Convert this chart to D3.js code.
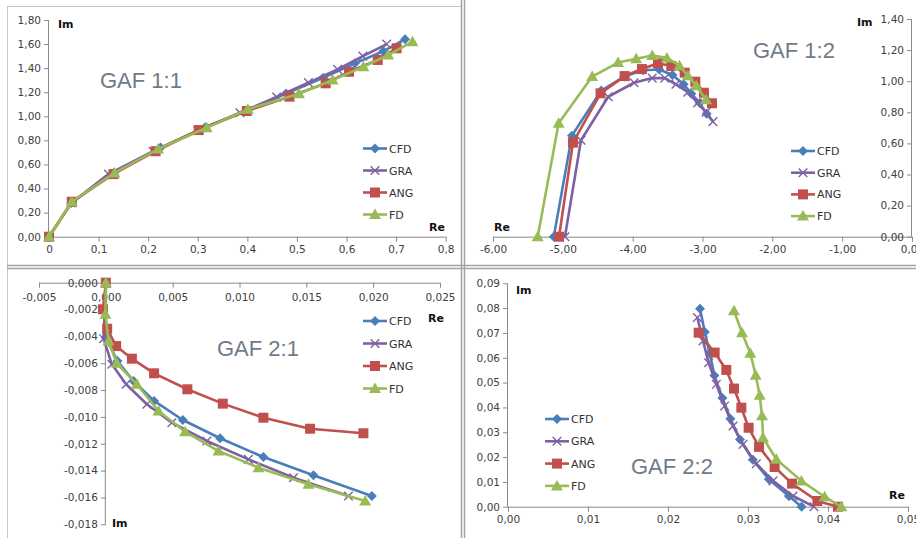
<!DOCTYPE html>
<html>
<head>
<meta charset="utf-8">
<script src="https://cdn.jsdelivr.net/npm/d3@7/dist/d3.min.js"></script>
<style>
  html, body { margin: 0; padding: 0; background: #ffffff; }
  svg { display: block; }
  .tick-label { font-family: "DejaVu Sans", Verdana, sans-serif; fill: #404040; }
  .axis-name { font-family: "DejaVu Sans", Verdana, sans-serif; font-weight: bold; fill: #111; font-size: 11px; }
  .panel-title { font-family: "Liberation Sans", Arial, sans-serif; fill: #6f7b89; font-size: 22px; }
  .legend-text { font-family: "DejaVu Sans", Verdana, sans-serif; fill: #333; font-size: 11px; }
</style>
</head>
<body>
<svg id="chart" width="916" height="538"></svg>
<script>
// Series shared by all four panels
const seriesNames = ["CFD", "GRA", "ANG", "FD"];
const seriesColors = ["#4a7ebb", "#7e61a3", "#c0504d", "#98bb55"];
const seriesMarkers = ["diamond", "cross", "square", "triangle"];

// GAF 1:1  — [Re, Im]
const gaf11CFD = [[0,0],[0.045,0.28],[0.13,0.53],[0.225,0.74],[0.315,0.91],[0.40,1.05],[0.478,1.19],[0.553,1.32],[0.617,1.44],[0.674,1.54],[0.718,1.64]];
const gaf11GRA = [[0,0],[0.045,0.28],[0.12,0.52],[0.21,0.71],[0.30,0.88],[0.385,1.03],[0.459,1.16],[0.523,1.28],[0.582,1.39],[0.633,1.50],[0.681,1.60]];
const gaf11ANG = [[0,0],[0.046,0.29],[0.13,0.52],[0.215,0.71],[0.302,0.886],[0.399,1.044],[0.485,1.163],[0.558,1.274],[0.605,1.37],[0.663,1.468],[0.701,1.565]];
const gaf11FD  = [[0,0],[0.046,0.29],[0.132,0.53],[0.22,0.728],[0.318,0.905],[0.401,1.058],[0.504,1.188],[0.572,1.301],[0.634,1.412],[0.684,1.509],[0.733,1.62]];
const gaf11XTicks = [0, 0.1, 0.2, 0.3, 0.4, 0.5, 0.6, 0.7, 0.8];
const gaf11XLabels = ["0", "0,1", "0,2", "0,3", "0,4", "0,5", "0,6", "0,7", "0,8"];
const gaf11YTicks = [0, 0.2, 0.4, 0.6, 0.8, 1.0, 1.2, 1.4, 1.6, 1.8];
const gaf11YLabels = ["0,00", "0,20", "0,40", "0,60", "0,80", "1,00", "1,20", "1,40", "1,60", "1,80"];

// GAF 1:2
const gaf12CFD = [[-5.13,0],[-4.87,0.65],[-4.45,0.94],[-4.12,1.03],[-3.85,1.07],[-3.62,1.075],[-3.43,1.04],[-3.27,0.98],[-3.16,0.92],[-3.04,0.86],[-2.94,0.79]];
const gaf12GRA = [[-4.97,0],[-4.74,0.62],[-4.35,0.90],[-3.98,0.99],[-3.72,1.02],[-3.54,1.02],[-3.38,0.98],[-3.21,0.93],[-3.07,0.86],[-2.95,0.80],[-2.85,0.74]];
const gaf12ANG = [[-5.055,0],[-4.855,0.605],[-4.46,0.922],[-4.115,1.033],[-3.867,1.078],[-3.637,1.115],[-3.447,1.098],[-3.255,1.055],[-3.103,0.997],[-2.979,0.926],[-2.864,0.858]];
const gaf12FD  = [[-5.36,0],[-5.06,0.73],[-4.58,1.03],[-4.21,1.12],[-3.95,1.145],[-3.72,1.165],[-3.51,1.15],[-3.33,1.10],[-3.21,1.035],[-3.09,0.97],[-2.95,0.88]];
const gaf12XTicks = [-6, -5, -4, -3, -2, -1, 0];
const gaf12XLabels = ["-6,00", "-5,00", "-4,00", "-3,00", "-2,00", "-1,00", "0,00"];
const gaf12YTicks = [0, 0.2, 0.4, 0.6, 0.8, 1.0, 1.2, 1.4];
const gaf12YLabels = ["0,00", "0,20", "0,40", "0,60", "0,80", "1,00", "1,20", "1,40"];

// GAF 2:1
const gaf21CFD = [[0,0],[0.0000,-0.0041],[0.00087,-0.00583],[0.00207,-0.00732],[0.00361,-0.00881],[0.00576,-0.01023],[0.00855,-0.01159],[0.01179,-0.01299],[0.01553,-0.01435],[0.0199,-0.01589]];
const gaf21GRA = [[0,0],[-0.00017,-0.00417],[0.00045,-0.00608],[0.00152,-0.00757],[0.00307,-0.00906],[0.00494,-0.01043],[0.00756,-0.01179],[0.01067,-0.01316],[0.01404,-0.01453],[0.01815,-0.01589]];
const gaf21ANG = [[0,0],[-0.00022,-0.00198],[0.0001,-0.00343],[0.00077,-0.00472],[0.00195,-0.00566],[0.00361,-0.00675],[0.0061,-0.00794],[0.00875,-0.00901],[0.01179,-0.01006],[0.01528,-0.01088],[0.01927,-0.01122]];
const gaf21FD  = [[0,0],[-0.00003,-0.00235],[0.0002,-0.00434],[0.00082,-0.006],[0.00232,-0.00757],[0.00394,-0.00956],[0.00593,-0.0111],[0.00843,-0.01254],[0.01142,-0.01378],[0.01516,-0.01502],[0.0194,-0.01626]];
const gaf21XTicks = [-0.005, 0, 0.005, 0.010, 0.015, 0.020, 0.025];
const gaf21XLabels = ["-0,005", "0,000", "0,005", "0,010", "0,015", "0,020", "0,025"];
const gaf21YTicks = [0, -0.002, -0.004, -0.006, -0.008, -0.010, -0.012, -0.014, -0.016, -0.018];
const gaf21YLabels = ["0,000", "-0,002", "-0,004", "-0,006", "-0,008", "-0,010", "-0,012", "-0,014", "-0,016", "-0,018"];

// GAF 2:2
const gaf22CFD = [[0.0240,0.0797],[0.0246,0.0704],[0.0252,0.0619],[0.0258,0.0529],[0.0268,0.0438],[0.0278,0.0354],[0.0290,0.0271],[0.0306,0.0189],[0.0326,0.0111],[0.0351,0.0043],[0.0367,0]];
const gaf22GRA = [[0.02367,0.0762],[0.02438,0.0668],[0.02508,0.058],[0.02604,0.0493],[0.02708,0.0406],[0.02813,0.0325],[0.02938,0.0251],[0.03104,0.0173],[0.03313,0.0104],[0.03563,0.0043],[0.03825,0]];
const gaf22ANG = [[0.02383,0.0701],[0.02583,0.0621],[0.02729,0.0551],[0.02825,0.0476],[0.02917,0.0399],[0.03008,0.0318],[0.03138,0.0241],[0.03333,0.016],[0.0355,0.0093],[0.03867,0.0023],[0.04125,0]];
const gaf22FD  = [[0.02825,0.0789],[0.02925,0.0701],[0.03029,0.0618],[0.03096,0.053],[0.03146,0.0449],[0.03175,0.0366],[0.03188,0.0278],[0.03354,0.0191],[0.03667,0.0104],[0.03958,0.004],[0.04167,0]];
const gaf22XTicks = [0, 0.01, 0.02, 0.03, 0.04, 0.05];
const gaf22XLabels = ["0,00", "0,01", "0,02", "0,03", "0,04", "0,05"];
const gaf22YTicks = [0, 0.01, 0.02, 0.03, 0.04, 0.05, 0.06, 0.07, 0.08, 0.09];
const gaf22YLabels = ["0,00", "0,01", "0,02", "0,03", "0,04", "0,05", "0,06", "0,07", "0,08", "0,09"];

const svg = d3.select("#chart");

// Panel frames and the double dividers between them
const frame = svg.append("g");
frame.append("line").attr("x1", 7.5).attr("x2", 7.5).attr("y1", 6).attr("y2", 538).attr("stroke", "#c6c6c6");
frame.append("line").attr("x1", 7).attr("x2", 461).attr("y1", 6.5).attr("y2", 6.5).attr("stroke", "#c6c6c6");
[461.5, 464.5].forEach(x => frame.append("line").attr("x1", x).attr("x2", x).attr("y1", 0).attr("y2", 538).attr("stroke", "#a2a2a2").attr("stroke-width", 1.5));
[265.5, 268.5].forEach(y => frame.append("line").attr("x1", 7).attr("x2", 916).attr("y1", y).attr("y2", y).attr("stroke", "#a2a2a2").attr("stroke-width", 1.5));

function markerPath(kind) {
  switch (kind) {
    case "diamond": return "M0,-5L5,0L0,5L-5,0Z";
    case "square": return "M-5,-5H5V5H-5Z";
    case "triangle": return "M0,-6L6,4.5L-6,4.5Z";
    case "cross": return "M-4.3,-4.3L4.3,4.3M-4.3,4.3L4.3,-4.3";
  }
}

function drawMarker(g, kind, color, x, y) {
  const p = g.append("path").attr("d", markerPath(kind)).attr("transform", `translate(${x},${y})`);
  if (kind === "cross") p.attr("fill", "none").attr("stroke", color).attr("stroke-width", 1.4);
  else p.attr("fill", color).attr("stroke", "none");
}

function drawPanel(cfg) {
  const g = svg.append("g");
  const x = d3.scaleLinear().domain(cfg.xDomain).range(cfg.xRange);
  const y = d3.scaleLinear().domain(cfg.yDomain).range(cfg.yRange);
  const axisColor = "#8a8a8a";
  const fs = cfg.fontSize;

  // x axis along y = cfg.xAxisAt
  const xAxisY = y(cfg.xAxisAt);
  const xAxis = g.append("g").attr("transform", `translate(0,${xAxisY})`)
    .call(d3.axisBottom(x).tickValues(cfg.xTicks).tickSize(5).tickFormat((d, i) => cfg.xLabels[i]));
  xAxis.select(".domain").attr("stroke", axisColor).attr("d", `M${x.range()[0]},0.5H${x.range()[1]}`);
  xAxis.selectAll(".tick line").attr("stroke", axisColor);
  xAxis.selectAll(".tick text").attr("class", "tick-label").attr("font-size", fs).attr("y", cfg.xLabelDy);

  // y axis along x = cfg.yAxisAt
  const yAxisX = x(cfg.yAxisAt);
  const yAxis = g.append("g").attr("transform", `translate(${yAxisX},0)`)
    .call(d3.axisLeft(y).tickValues(cfg.yTicks).tickSize(5).tickFormat((d, i) => cfg.yLabels[i]));
  yAxis.select(".domain").attr("stroke", axisColor).attr("d", `M-0.5,${y.range()[0]}V${y.range()[1]}`);
  yAxis.selectAll(".tick line").attr("stroke", axisColor);
  yAxis.selectAll(".tick text").attr("class", "tick-label").attr("font-size", fs).attr("x", cfg.yLabelDx);

  // axis names and panel title
  g.append("text").attr("class", "axis-name").attr("x", cfg.imPos[0]).attr("y", cfg.imPos[1]).text("Im");
  g.append("text").attr("class", "axis-name").attr("x", cfg.rePos[0]).attr("y", cfg.rePos[1]).text("Re");
  g.append("text").attr("class", "panel-title").attr("x", cfg.titlePos[0]).attr("y", cfg.titlePos[1]).text(cfg.title);

  // series lines then markers
  const line = d3.line().x(d => x(d[0])).y(d => y(d[1]));
  cfg.series.forEach((data, i) => {
    const sg = g.append("g");
    sg.append("path").attr("d", line(data)).attr("fill", "none")
      .attr("stroke", seriesColors[i]).attr("stroke-width", 2.6).attr("stroke-linejoin", "round");
    data.forEach(d => drawMarker(sg, seriesMarkers[i], seriesColors[i], x(d[0]), y(d[1])));
  });

  // legend
  const lg = g.append("g").attr("transform", `translate(${cfg.legendPos[0]},${cfg.legendPos[1]})`);
  seriesNames.forEach((name, i) => {
    const row = lg.append("g").attr("transform", `translate(0,${i * cfg.legendStep})`);
    row.append("line").attr("x1", 0).attr("x2", 24).attr("y1", 0).attr("y2", 0)
      .attr("stroke", seriesColors[i]).attr("stroke-width", 2.6);
    drawMarker(row, seriesMarkers[i], seriesColors[i], 12, 0);
    row.append("text").attr("class", "legend-text").attr("x", 26).attr("y", 4).text(name);
  });
}

drawPanel({
  title: "GAF 1:1", titlePos: [100, 88],
  xDomain: [0, 0.8], xRange: [49, 445.7], yDomain: [0, 1.8], yRange: [236.7, 20],
  xAxisAt: 0, yAxisAt: 0, xLabelDy: 9, yLabelDx: -8, fontSize: 10.5,
  xTicks: gaf11XTicks, xLabels: gaf11XLabels, yTicks: gaf11YTicks, yLabels: gaf11YLabels,
  imPos: [58, 28], rePos: [429, 231],
  series: [gaf11CFD, gaf11GRA, gaf11ANG, gaf11FD],
  legendPos: [363, 148.5], legendStep: 22
});

drawPanel({
  title: "GAF 1:2", titlePos: [753, 58],
  xDomain: [-6, 0], xRange: [493, 912], yDomain: [0, 1.4], yRange: [236.7, 19],
  xAxisAt: 0, yAxisAt: 0, xLabelDy: 9, yLabelDx: -8, fontSize: 10.5,
  xTicks: gaf12XTicks, xLabels: gaf12XLabels, yTicks: gaf12YTicks, yLabels: gaf12YLabels,
  imPos: [857, 26], rePos: [494, 231],
  series: [gaf12CFD, gaf12GRA, gaf12ANG, gaf12FD],
  legendPos: [791, 151], legendStep: 21.7
});

drawPanel({
  title: "GAF 2:1", titlePos: [217, 356],
  xDomain: [-0.005, 0.025], xRange: [39, 440], yDomain: [0, -0.018], yRange: [282.7, 524.3],
  xAxisAt: 0, yAxisAt: 0, xLabelDy: 11, yLabelDx: -8, fontSize: 10.5,
  xTicks: gaf21XTicks, xLabels: gaf21XLabels, yTicks: gaf21YTicks, yLabels: gaf21YLabels,
  imPos: [112, 527], rePos: [428, 322],
  series: [gaf21CFD, gaf21GRA, gaf21ANG, gaf21FD],
  legendPos: [363, 321], legendStep: 22.5
});

drawPanel({
  title: "GAF 2:2", titlePos: [631, 474],
  xDomain: [0, 0.05], xRange: [508, 908], yDomain: [0, 0.09], yRange: [506.7, 283.3],
  xAxisAt: 0, yAxisAt: 0, xLabelDy: 9, yLabelDx: -8, fontSize: 10.5,
  xTicks: gaf22XTicks, xLabels: gaf22XLabels, yTicks: gaf22YTicks, yLabels: gaf22YLabels,
  imPos: [516, 294], rePos: [889, 499],
  series: [gaf22CFD, gaf22GRA, gaf22ANG, gaf22FD],
  legendPos: [545, 419], legendStep: 22.3
});
</script>
</body>
</html>
